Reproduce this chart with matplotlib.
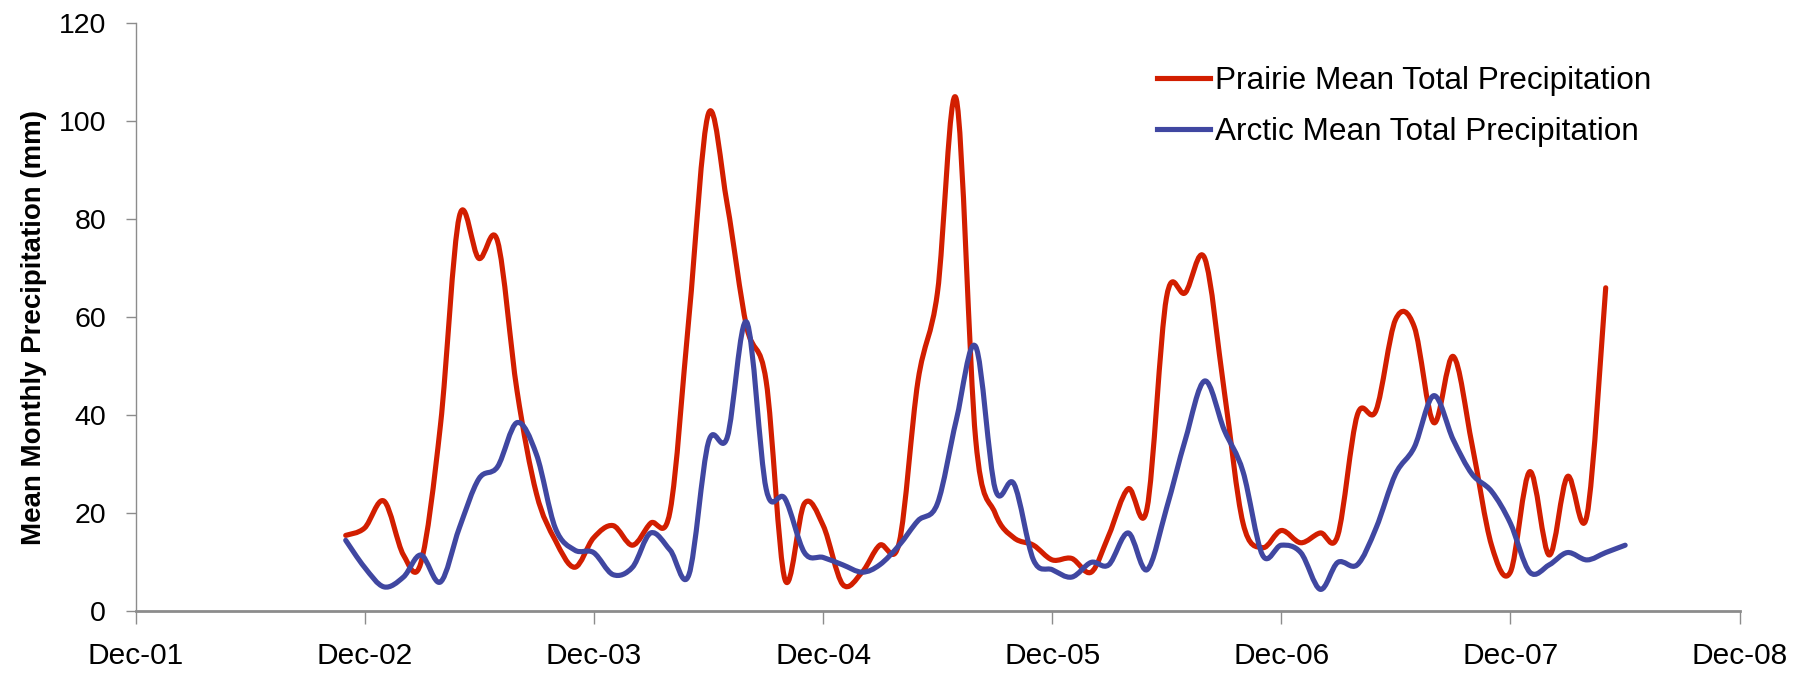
import numpy as np
import pandas as pd
import matplotlib
matplotlib.use("Agg")
import matplotlib.pyplot as plt
import matplotlib.dates as mdates
from matplotlib.path import Path
from matplotlib.patches import PathPatch
from matplotlib.lines import Line2D

plt.rcParams["font.family"] = ["Liberation Sans", "DejaVu Sans"]

# monthly means (mm), first point Nov 2002
prairie = [15.5, 17, 22.5, 11.5, 10, 38, 80.5, 72, 75.5, 45, 24, 14.5, 9,
           15, 17.5, 13.5, 18, 20.5, 60, 101.5, 83, 58, 47, 6.5, 22,
           17.5, 5.5, 8, 13.5, 14, 47, 65, 104.5, 35, 20, 15, 13.5,
           10.5, 10.8, 8, 15.5, 25, 21, 64, 65, 72, 45, 18, 13, 16.5,
           14, 16, 15.5, 40, 41, 59.5, 58, 38.5, 52, 34, 13.5, 8,
           28.5, 11.5, 27.5, 19.5, 66]
arctic = [14.5, 9, 5, 7, 11.5, 6, 17, 27, 29.5, 38.5, 32, 17, 12.5,
          12, 7.5, 9, 16, 12.5, 7.5, 34.5, 35.5, 59, 25, 23, 12,
          11, 9.5, 8, 9.5, 13.5, 18.5, 22, 39, 54, 25, 26, 10.5,
          8.5, 7, 10, 9.5, 16, 8.5, 21, 35, 47, 37, 28.5, 11.5, 13.5,
          12, 4.5, 10, 9.5, 17, 28, 33.5, 44, 35, 28, 24.5, 18,
          8, 9.5, 12, 10.5, 12, 13.5]

prairie_dates = pd.date_range("2002-11-01", periods=len(prairie), freq="MS")
arctic_dates = pd.date_range("2002-11-01", periods=len(arctic), freq="MS")

labels = ["Prairie Mean Total Precipitation", "Arctic Mean Total Precipitation"]
colors = ["#D21E00", "#4047A1"]


def smooth_path(xs, ys):
    # Excel style smoothed line: cubic bezier through every point
    p = np.column_stack([xs, ys])
    verts = [p[0]]
    codes = [Path.MOVETO]
    n = len(p)
    for i in range(n - 1):
        p0 = p[i - 1] if i > 0 else p[i]
        p3 = p[i + 2] if i + 2 < n else p[i + 1]
        c1 = p[i] + (p[i + 1] - p0) / 6.0
        c2 = p[i + 1] - (p3 - p[i]) / 6.0
        verts += [c1, c2, p[i + 1]]
        codes += [Path.CURVE4] * 3
    return Path(verts, codes)


fig = plt.figure(figsize=(18.16, 6.78), dpi=100)
ax = fig.add_axes([135.5 / 1816, 66.6 / 678, 1604.5 / 1816, 588.4 / 678])

for d, v, c in [(prairie_dates, prairie, colors[0]), (arctic_dates, arctic, colors[1])]:
    xs = mdates.date2num(d.to_pydatetime())
    ax.add_patch(PathPatch(smooth_path(xs, np.array(v, float)), fill=False,
                           edgecolor=c, lw=3.7, capstyle="round", joinstyle="round"))

ax.set_xlim(mdates.date2num(pd.Timestamp("2001-12-01")), mdates.date2num(pd.Timestamp("2008-12-01")))
ax.set_ylim(0, 120)
ax.xaxis.set_major_locator(mdates.MonthLocator(bymonth=12, bymonthday=1))
ax.xaxis.set_major_formatter(mdates.DateFormatter("%b-%y"))
ax.set_yticks(range(0, 121, 20))

for s in ["top", "right"]:
    ax.spines[s].set_visible(False)
ax.spines["left"].set_color("#8C8C8C")
ax.spines["left"].set_linewidth(1)
ax.spines["bottom"].set_color("#8C8C8C")
ax.spines["bottom"].set_linewidth(2)
ax.tick_params(axis="x", direction="out", length=9, width=1, color="#8C8C8C",
               labelsize=21.5, pad=13)
ax.tick_params(axis="y", direction="out", length=7.2, width=1, color="#8C8C8C",
               labelsize=20.5, pad=14)

ax.set_ylabel("Mean Monthly Precipitation (mm)", fontsize=19.9, fontweight="bold")
ax.yaxis.set_label_coords(-88 / 1604.5, 0.483)

handles = [Line2D([], [], color=c, lw=3.7) for c in colors]
fig.legend(handles, labels, loc="upper left", bbox_to_anchor=(1141 / 1816, 1 - 50 / 678),
           frameon=False, fontsize=22.7, handlelength=1.7, handletextpad=0.15,
           borderpad=0, labelspacing=0.68)

fig.savefig("out.png", dpi=100)
